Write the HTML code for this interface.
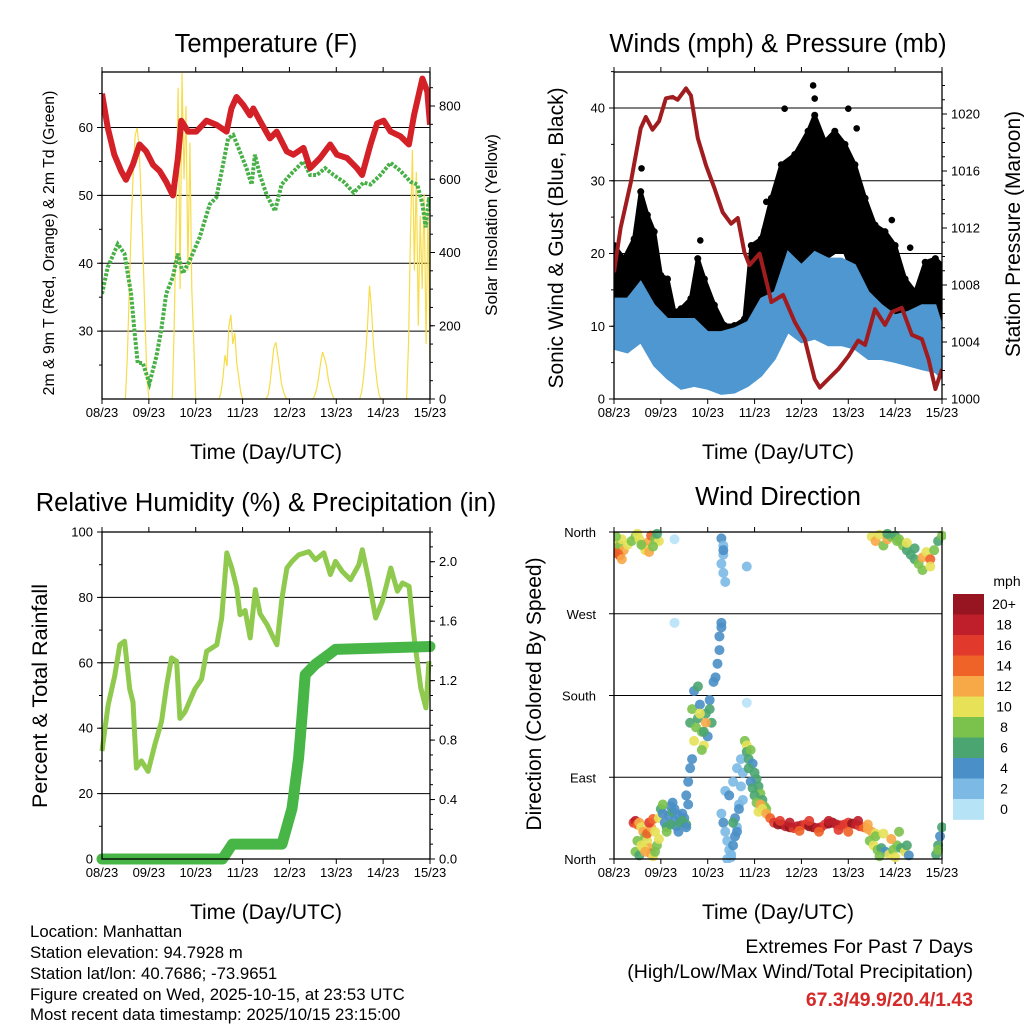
<!DOCTYPE html>
<html><head><meta charset="utf-8"><style>
html,body{margin:0;padding:0;background:#fff}
svg{display:block;font-family:"Liberation Sans",Arial,sans-serif}
</style></head><body>
<svg id="fig" width="1024" height="1024" viewBox="0 0 1024 1024" xmlns="http://www.w3.org/2000/svg">
<g id="layer"></g>
<g font-size="25.5" text-anchor="middle" fill="#000">
<text x="266" y="52">Temperature (F)</text>
<text x="778" y="52">Winds (mph) &amp; Pressure (mb)</text>
<text x="266" y="511">Relative Humidity (%) &amp; Precipitation (in)</text>
<text x="778" y="505">Wind Direction</text>
</g>
<g font-size="21" text-anchor="middle">
<text x="266" y="459">Time (Day/UTC)</text>
<text x="778" y="459">Time (Day/UTC)</text>
<text x="266" y="919">Time (Day/UTC)</text>
<text x="778" y="919">Time (Day/UTC)</text>
<text transform="translate(54,243) rotate(-90)" font-size="15.8">2m &amp; 9m T (Red, Orange) &amp; 2m Td (Green)</text>
<text transform="translate(497,225) rotate(-90)" font-size="17">Solar Insolation (Yellow)</text>
<text transform="translate(563,238) rotate(-90)">Sonic Wind &amp; Gust (Blue, Black)</text>
<text transform="translate(1020,234) rotate(-90)">Station Pressure (Maroon)</text>
<text transform="translate(47,696) rotate(-90)" font-size="21.6">Percent &amp; Total Rainfall</text>
<text transform="translate(541,694) rotate(-90)">Direction (Colored By Speed)</text>
</g>
<g font-size="16.8">
<text x="30" y="937">Location: Manhattan</text>
<text x="30" y="958">Station elevation: 94.7928 m</text>
<text x="30" y="979">Station lat/lon: 40.7686; -73.9651</text>
<text x="30" y="1000">Figure created on Wed, 2025-10-15, at 23:53 UTC</text>
<text x="30" y="1020">Most recent data timestamp: 2025/10/15 23:15:00</text>
</g>
<g font-size="19.5" text-anchor="end">
<text x="973" y="953">Extremes For Past 7 Days</text>
<text x="973" y="978">(High/Low/Max Wind/Total Precipitation)</text>
<text x="973" y="1006" font-weight="bold" fill="#d42a2a" font-size="19.4">67.3/49.9/20.4/1.43</text>
</g>
</svg>
<script>
// ---------- data ----------
const dayLabels=["08/23","09/23","10/23","11/23","12/23","13/23","14/23","15/23"];
const tempHours=[0,2.9,6.3,9.8,12.3,15.8,19.2,22.6,26.1,29.5,32.9,36.3,38.9,40.6,44.1,48.3,53.5,58.6,63.8,66.3,68.9,72.4,75.8,77.5,80.9,86,89.5,94.6,98,103.2,106.6,111.7,116.9,120.3,125.5,130.6,133.2,137.5,140.9,144.3,147.8,152.9,157.2,159.8,164.1,166.6,168];
const tempValues=[65,60,56,53.6,52.3,54.5,57.5,56.5,54.5,53.6,52,50,55.5,61,59.4,59.4,61,60.4,59.4,62.8,64.5,63.3,61.8,62.8,61,58.4,59.4,56.5,56,57,54,55.5,57.5,56,55.5,54,53,57.5,60.6,61,59.4,58.7,57.5,61.8,67.2,65.3,60.4];
const dewHours=[0,2.9,8.1,11.5,14.9,16.6,18.3,20.9,24.3,27.8,30.3,32.9,36.3,38.9,41.4,44.9,50,55.2,58.6,62,64.6,67.2,70.6,74,76.6,78.3,80.9,84.3,88.6,92,96.3,101.4,103.2,106.6,110,114.3,118.6,123.8,128.9,134,137.5,142.6,147.8,152.9,158,161.5,164.1,165.8,167.5,168];
const dewValues=[35.5,39.4,42.8,41.4,35.5,30.1,25.3,25.3,22.3,26.2,30.1,35.5,38,41.4,38.5,40.4,43.8,48.7,49.7,54.5,58.4,58.9,56.5,54,51.6,56,53,50.1,47.7,51.6,53,54.5,55,53,53,54,53,52,50.4,51.9,51.6,53,54.8,53.6,52,51.6,48.7,45.3,49.7,48.2];
const solarDayStart=[12,36,60,84,108,132,156];
const solarDay0=[0,120,300,480,620,720,740,690,560,400,220,60,0];
const solarDay1=[0,200,500,850,300,890,600,800,350,700,300,150,0];
const solarDay2=[0,20,60,120,90,200,230,150,180,100,60,20,0];
const solarDay3=[0,10,40,90,140,155,120,80,40,20,5,0,0];
const solarDay4=[0,10,30,60,100,128,110,90,50,30,10,0,0];
const solarDay5=[0,20,60,120,200,310,250,150,90,40,10,0,0];
const solarDay6=[0,150,450,680,350,620,200,500,300,560,150,520,100];

const presHours=[0,3.4,8.6,13.7,16.3,19.7,23.1,26.6,30,32.6,36.9,39.4,42.9,47.1,51.4,55.7,60,63.4,66.8,69.4,74.6,80.6,86.6,92.6,97.7,102.8,105.4,109.7,114.9,120,125.1,128.6,133.7,138.8,142.3,147.4,152.6,157.7,161.1,164.6,168];
const presValues=[1008.9,1012,1015.2,1019,1019.8,1018.9,1019.5,1021.1,1021.2,1021,1021.8,1021.3,1018.3,1016.4,1014.8,1013.1,1012.3,1012.7,1010.3,1009.4,1010.2,1006.8,1007.3,1005.4,1004.2,1001.4,1000.8,1001.4,1002.1,1003,1004.1,1003.8,1006.3,1005.2,1006.1,1006.4,1004.5,1004.2,1002.8,1000.7,1002.1];
const windHours=[0,6.9,13.7,20.6,27.4,34.3,41.1,48,54.9,61.7,68.6,75.4,82.3,89.1,96,102.8,109.7,116.6,123.4,130.3,137.1,144,150.9,157.7,164.6,168];
const windHigh=[13.8,13.8,16.1,12.9,11,11,11,9.2,9.2,9.7,10.6,13.8,14.7,20.2,18.4,20.2,19.3,19.3,18.4,14.7,12.9,11.5,12,12.9,12.9,10];
const windLow=[6.9,6.4,7.8,4.6,2.8,1.4,1.8,1.4,0.7,0.9,1.8,3.2,5.5,9.2,7.8,8.3,7.4,7.4,6.9,5.5,5.5,5.1,4.6,4.1,3.7,2.8];
const gustHours=[0,5.1,10.3,13.7,17.1,20.6,24,27.4,30.9,34.3,39.4,42.9,46.3,51.4,56.6,61.7,66.8,70.3,75.4,80.6,85.7,92.6,99.4,102.8,108,113.1,118.3,123.4,128.6,133.7,138.8,144,149.1,154.3,159.4,164.6,168];
const gustHigh=[21.1,19.3,22,28.5,25.3,23,17,16.5,12,12.4,13.8,19.3,16.5,12.9,10.1,10.1,11,21.1,22,27.6,32.2,33.6,36.8,39,35.4,36.8,35,32.2,27.6,23.9,23,21.1,16.5,14.7,18.8,19.3,18.4];
const gustLow=[9.2,11,10.1,11,11,9.2,8.3,6.9,4.6,5.5,5.5,6.9,5.5,6.4,4.6,4.6,4.6,8.3,11,13.8,17.5,18.4,19.3,20.2,19.3,20.2,20.2,16.5,13.8,14.3,12.9,11.9,10.1,7.8,10.1,9.7,9.2];
const gustOutHours=[102,102.8,87.4,120,14.1,44.2,124.3,142.3,151.7,78,77.1];
const gustOutValues=[43.1,41.3,39.9,39.9,31.7,21.8,37.2,24.6,20.8,27.1,23.2];

const rhHours=[0,3.1,6.5,9.1,11.6,14.2,15.9,17.6,20.2,23.6,27.1,30.5,33.1,35.6,38.2,39.9,42.5,47.6,51,53.6,58.8,61.3,63.9,66.5,69,70.7,73.3,75.9,78.5,81,84.5,87,89.6,92.2,94.7,97.3,100.7,105.9,109.3,113.6,117,119.6,123,127.3,131.6,133.3,136.7,140.2,143.6,147.9,151.3,153.9,157.3,159.9,163.3,165.9,167.5];
const rhValues=[33,47,56,65.5,66.6,52,48,27.8,30,26.8,35,42,53,61.5,60.5,43,45,52,55,63.5,65.5,73.7,93.6,89,83,74.7,76,67.6,82.4,75,71.7,68.6,65.5,79.8,89,91,93,94,91.5,93.6,87,91,88,85.4,90,94.6,85,73.7,78.8,89,81.9,84.4,83.4,67.6,52.3,46.2,60.5];
const rainHours=[0,61.7,66.8,92.2,97.3,100.7,102.4,104.1,109.3,116.1,119.6,168];
const rainValues=[0,0,0.1,0.1,0.34,0.68,0.95,1.24,1.31,1.375,1.41,1.43];

const dirHours=[
0,1,2,3,4,1,3,5,7,9,11,13,15,17,19,21,23,16,18,20,22,12,14,2,4,
10,11,12,13,14,15,16,17,18,19,20,21,22,23,11,13,15,17,19,21,12,14,16,18,20,
23,24,25,26,27,28,29,30,31,32,33,34,35,36,37,38,25,27,29,31,33,35,37,30,
37,38,39,40,
39,40,41,42,43,44,45,46,47,48,49,50,41,43,45,47,49,51,52,53,54,54,55,55,44,46,
55,56,56,55,56,57,56,31,68,31,68,
55,56,57,58,59,60,61,62,63,64,65,66,57,59,61,63,65,58,60,62,64,66,61,63,
67,68,68,69,70,71,72,73,74,75,76,77,78,69,70,71,72,73,74,75,
76,78,80,82,84,86,88,90,92,94,96,98,100,102,104,106,108,110,112,114,116,118,120,122,124,126,128,130,132,134,85,90,95,100,105,110,115,120,125,130,
131,133,135,137,139,141,143,145,147,149,151,134,138,142,146,150,136,144,
132,134,136,138,140,142,144,146,148,150,152,154,156,158,160,162,164,166,168,150,154,158,162,145,140,
165,166,167,168,166];
const dirDegrees=[
348,342,338,345,352,355,334,340,346,350,355,352,345,348,356,352,350,340,338,344,358,358,346,336,330,
40,42,38,40,35,30,25,20,12,6,3,8,15,22,8,4,12,28,35,30,20,15,8,40,44,
45,55,50,40,35,48,58,52,42,36,30,40,50,45,38,60,60,30,38,55,48,42,35,62,
70,85,100,110,
150,165,130,145,155,170,140,125,160,135,175,150,185,190,120,150,165,195,200,215,230,245,260,255,160,140,
353,345,335,325,315,305,340,352,322,260,172,
50,40,30,20,10,5,15,25,35,60,80,95,75,70,85,100,110,0,2,45,55,65,40,30,
130,125,118,110,120,105,95,88,80,72,65,58,55,100,85,78,70,62,52,60,
55,50,45,40,38,38,36,35,34,36,37,38,36,35,34,35,38,39,40,38,37,38,40,39,38,36,35,33,30,28,42,40,31,42,30,42,32,30,42,38,
20,15,10,12,8,5,10,15,12,8,4,25,28,22,30,15,3,2,
355,350,357,345,352,355,356,352,345,340,335,330,325,332,338,330,340,350,356,348,342,318,322,350,358,
5,15,25,35,10];
const dirSpeeds=[
10,12,14,8,10,8,16,12,10,8,8,10,12,12,14,8,10,10,12,8,6,10,8,14,12,
16,18,14,12,10,12,8,10,12,14,10,8,8,10,8,6,10,14,12,10,8,10,12,16,14,
10,6,4,4,6,4,4,6,4,4,4,6,4,4,6,4,8,8,6,4,4,6,4,4,
4,4,4,4,
6,8,10,8,6,4,8,10,6,4,4,6,4,6,8,12,6,4,4,4,4,4,4,4,10,6,
4,2,2,2,2,2,4,0,2,0,0,
2,4,2,2,2,2,4,4,2,2,2,2,2,4,2,2,2,2,2,4,4,2,6,4,
8,10,6,6,8,4,6,6,6,8,6,8,8,6,4,6,6,8,10,12,
10,12,14,16,20,20,18,20,16,18,18,16,20,20,18,18,16,20,20,18,18,16,16,20,18,16,14,12,12,10,16,18,14,16,14,18,16,14,18,12,
8,10,8,6,4,10,8,8,6,10,4,8,10,12,8,6,8,10,
10,12,10,8,12,8,6,8,8,6,6,6,8,12,10,14,8,6,8,10,6,8,10,8,6,
6,6,4,6,8];
const speedLabels=["0","2","4","6","8","10","12","14","16","18","20+"];
const speedColors=["#b7e3f7","#7cb9e4","#4a8fc7","#4aa571","#7bc24d","#e6e157","#f7a847","#ef6228","#e13a2c","#bf1f2a","#961520"];
const dirLabels=["North","East","South","West","North"];

// ---------- helpers ----------
const NS="http://www.w3.org/2000/svg";
const layer=document.getElementById('layer');
function mk(tag,attrs,parent){const e=document.createElementNS(NS,tag);for(const k in attrs)e.setAttribute(k,attrs[k]);(parent||layer).appendChild(e);return e;}
function scale(d0,d1,r0,r1){return v=>r0+(v-d0)/(d1-d0)*(r1-r0);}
function linePath(xs,ys,sx,sy){return xs.map((h,i)=>(i?'L':'M')+sx(h).toFixed(1)+','+sy(ys[i]).toFixed(1)).join('');}
function bandPath(xs,hi,lo,sx,sy){let d=xs.map((h,i)=>(i?'L':'M')+sx(h).toFixed(1)+','+sy(hi[i]).toFixed(1)).join('');for(let i=xs.length-1;i>=0;i--)d+='L'+sx(xs[i]).toFixed(1)+','+sy(lo[i]).toFixed(1);return d+'Z';}

function frame(x0,x1,y0,y1,name){
  const g=mk('g',{});
  
  
  const sx=scale(0,168,x0,x1);
  for(let d=0;d<=7;d++){
    const x=sx(d*24);
    mk('line',{x1:x,x2:x,y1:y1,y2:y1+5,stroke:'#000','stroke-width':1},g);
    mk('line',{x1:x,x2:x,y1:y0,y2:y0-5,stroke:'#000','stroke-width':1},g);
    const t=mk('text',{x:x,y:y1+18,'font-size':13,'text-anchor':'middle'},g);
    t.textContent=dayLabels[d];
    
    
  }
  return {g,sx};
}
function hgrid(g,x0,x1,y){mk('line',{x1:x0,x2:x1,y1:y,y2:y,stroke:'#000','stroke-width':1},g);}
function border(x0,x1,y0,y1){const r=mk('rect',{x:x0,y:y0,width:x1-x0,height:y1-y0,fill:'none',stroke:'#000','stroke-width':1.3});}
function yTicks(g,x,side,lo,hi,step,sy,len,labelFmt){
  for(let v=lo;v<=hi+1e-9;v+=step){
    const y=sy(v);
    mk('line',{x1:x,x2:x+side*len,y1:y,y2:y,stroke:'#000','stroke-width':1},g);
    if(labelFmt){const t=mk('text',{x:x+side*9,y:y+4.5,'font-size':13,'text-anchor':side<0?'end':'start'},g);t.textContent=labelFmt(v);
      
      }
  }
}

// ---------- Panel 1: temperature ----------
(function(){
  const x0=102,x1=430,y0=72,y1=399;
  const {g,sx}=frame(x0,x1,y0,y1,'temperature');
  const sy=scale(20,60,399,127.5), sr=scale(0,800,399,106);
  [30,40,50,60].forEach(v=>hgrid(g,x0,x1,sy(v)));
  yTicks(g,x0,-1,25,65,5,sy,3,null);
  yTicks(g,x0,-1,30,60,10,sy,5,v=>v);
  yTicks(g,x1,1,0,850,50,sr,3,null);
  yTicks(g,x1,1,0,800,200,sr,5,v=>v);
  const clip=mk('clipPath',{id:'c1'});mk('rect',{x:x0,y:y0,width:x1-x0,height:y1-y0},clip);
  const pg=mk('g',{'clip-path':'url(#c1)'});
  const solarDays=[solarDay0,solarDay1,solarDay2,solarDay3,solarDay4,solarDay5,solarDay6];
  solarDays.forEach((arr,d)=>{
    const hrs=arr.map((v,i)=>solarDayStart[d]+i);
    const p=mk('path',{d:linePath(hrs,arr,sx,sr),fill:'none',stroke:'#f7dc4a','stroke-width':1.2},pg);
    
    
  });
  const dp=mk('path',{d:linePath(dewHours,dewValues,sx,sy),fill:'none',stroke:'#47b046','stroke-width':4,'stroke-dasharray':'3 1.5'},pg);
  
  
  const tp=mk('path',{d:linePath(tempHours,tempValues,sx,sy),fill:'none',stroke:'#d42027','stroke-width':6,'stroke-linejoin':'round'},pg);
  
  
  border(x0,x1,y0,y1);
})();

// ---------- Panel 2: winds & pressure ----------
(function(){
  const x0=614,x1=942,y0=72,y1=399;
  const {g,sx}=frame(x0,x1,y0,y1,'winds');
  const sy=scale(0,40,399,108), sp=scale(1000,1020,399,114);
  [10,20,30,40].forEach(v=>hgrid(g,x0,x1,sy(v)));
  yTicks(g,x0,-1,0,45,5,sy,3,null);
  yTicks(g,x0,-1,0,40,10,sy,5,v=>v);
  yTicks(g,x1,1,1000,1022,1,sp,3,null);
  yTicks(g,x1,1,1000,1020,4,sp,5,v=>v);
  const clip=mk('clipPath',{id:'c2'});mk('rect',{x:x0,y:y0,width:x1-x0,height:y1-y0},clip);
  const pg=mk('g',{'clip-path':'url(#c2)'});
  const gb=mk('path',{d:bandPath(gustHours,gustHigh,gustLow,sx,sy),fill:'#000',stroke:'#000','stroke-width':4,'stroke-linejoin':'round'},pg);
  
  
  gustHours.forEach((h,i)=>{
    const c=mk('circle',{cx:sx(h),cy:sy(gustHigh[i]),r:3.5,fill:'#000'},pg);
    
    
  });
  gustOutHours.forEach((h,i)=>{
    const c=mk('circle',{cx:sx(h),cy:sy(gustOutValues[i]),r:3.3,fill:'#000'},pg);
    
    
  });
  const wb=mk('path',{d:bandPath(windHours,windHigh,windLow,sx,sy),fill:'#4f97d1',stroke:'#4f97d1','stroke-width':2},pg);
  
  
  const pp=mk('path',{d:linePath(presHours,presValues,sx,sp),fill:'none',stroke:'#a01c1f','stroke-width':4,'stroke-linejoin':'round'},pg);
  
  
  border(x0,x1,y0,y1);
})();

// ---------- Panel 3: RH & precipitation ----------
(function(){
  const x0=102,x1=430,y0=532,y1=859;
  const {g,sx}=frame(x0,x1,y0,y1,'humidity');
  const sy=scale(0,100,859,532), sr=scale(0,2.2,859,532);
  [20,40,60,80].forEach(v=>hgrid(g,x0,x1,sy(v)));
  yTicks(g,x0,-1,0,100,10,sy,3,null);
  yTicks(g,x0,-1,0,100,20,sy,5,v=>v);
  yTicks(g,x1,1,0,2.2,0.1,sr,3,null);
  yTicks(g,x1,1,0,2.0,0.4,sr,5,v=>v.toFixed(1));
  const rh=mk('path',{d:linePath(rhHours,rhValues,sx,sy),fill:'none',stroke:'#8fc94e','stroke-width':5,'stroke-linejoin':'round'});
  
  
  const rn=mk('path',{d:linePath(rainHours,rainValues,sx,sr),fill:'none',stroke:'#47b646','stroke-width':11,'stroke-linecap':'round','stroke-linejoin':'round'});
  
  
  border(x0,x1,y0,y1);
})();

// ---------- Panel 4: wind direction ----------
(function(){
  const x0=614,x1=942,y0=532,y1=859;
  const {g,sx}=frame(x0,x1,y0,y1,'direction');
  const sy=scale(0,360,859,532);
  dirLabels.forEach((lab,i)=>{
    const y=sy(i*90);
    hgrid(g,x0,x1,y);
    mk('line',{x1:x0,x2:x0-5,y1:y,y2:y,stroke:'#000'},g);
    const t=mk('text',{x:x0-18,y:y+5,'font-size':13,'text-anchor':'end'},g);
    t.textContent=lab;
    
    
  });
  const clip=mk('clipPath',{id:'c4'});mk('rect',{x:x0,y:y0-4,width:x1-x0+4,height:y1-y0+8},clip);
  const pg=mk('g',{'clip-path':'url(#c4)','fill-opacity':0.9});
  dirHours.forEach((h,i)=>{
    const b=Math.min(10,Math.floor(dirSpeeds[i]/2));
    const c=mk('circle',{cx:sx(h),cy:sy(dirDegrees[i]),r:5,fill:speedColors[b]},pg);
    
    
  });
  border(x0,x1,y0,y1);
  // colorbar
  const cb=mk('g',{});
  
  
  const top=594,h=20.5;
  speedColors.forEach((col,i)=>{
    const k=10-i;
    mk('rect',{x:953,y:top+i*h,width:31,height:h+0.3,fill:speedColors[k]},cb);
    const t=mk('text',{x:1004,y:top+i*h+15,'font-size':14,'text-anchor':'middle'},cb);
    t.textContent=speedLabels[k];
    
    
  });
  const u=mk('text',{x:1007,y:586,'font-size':14,'text-anchor':'middle'},cb);
  u.textContent='mph';
  
  
})();
</script>
</body></html>
